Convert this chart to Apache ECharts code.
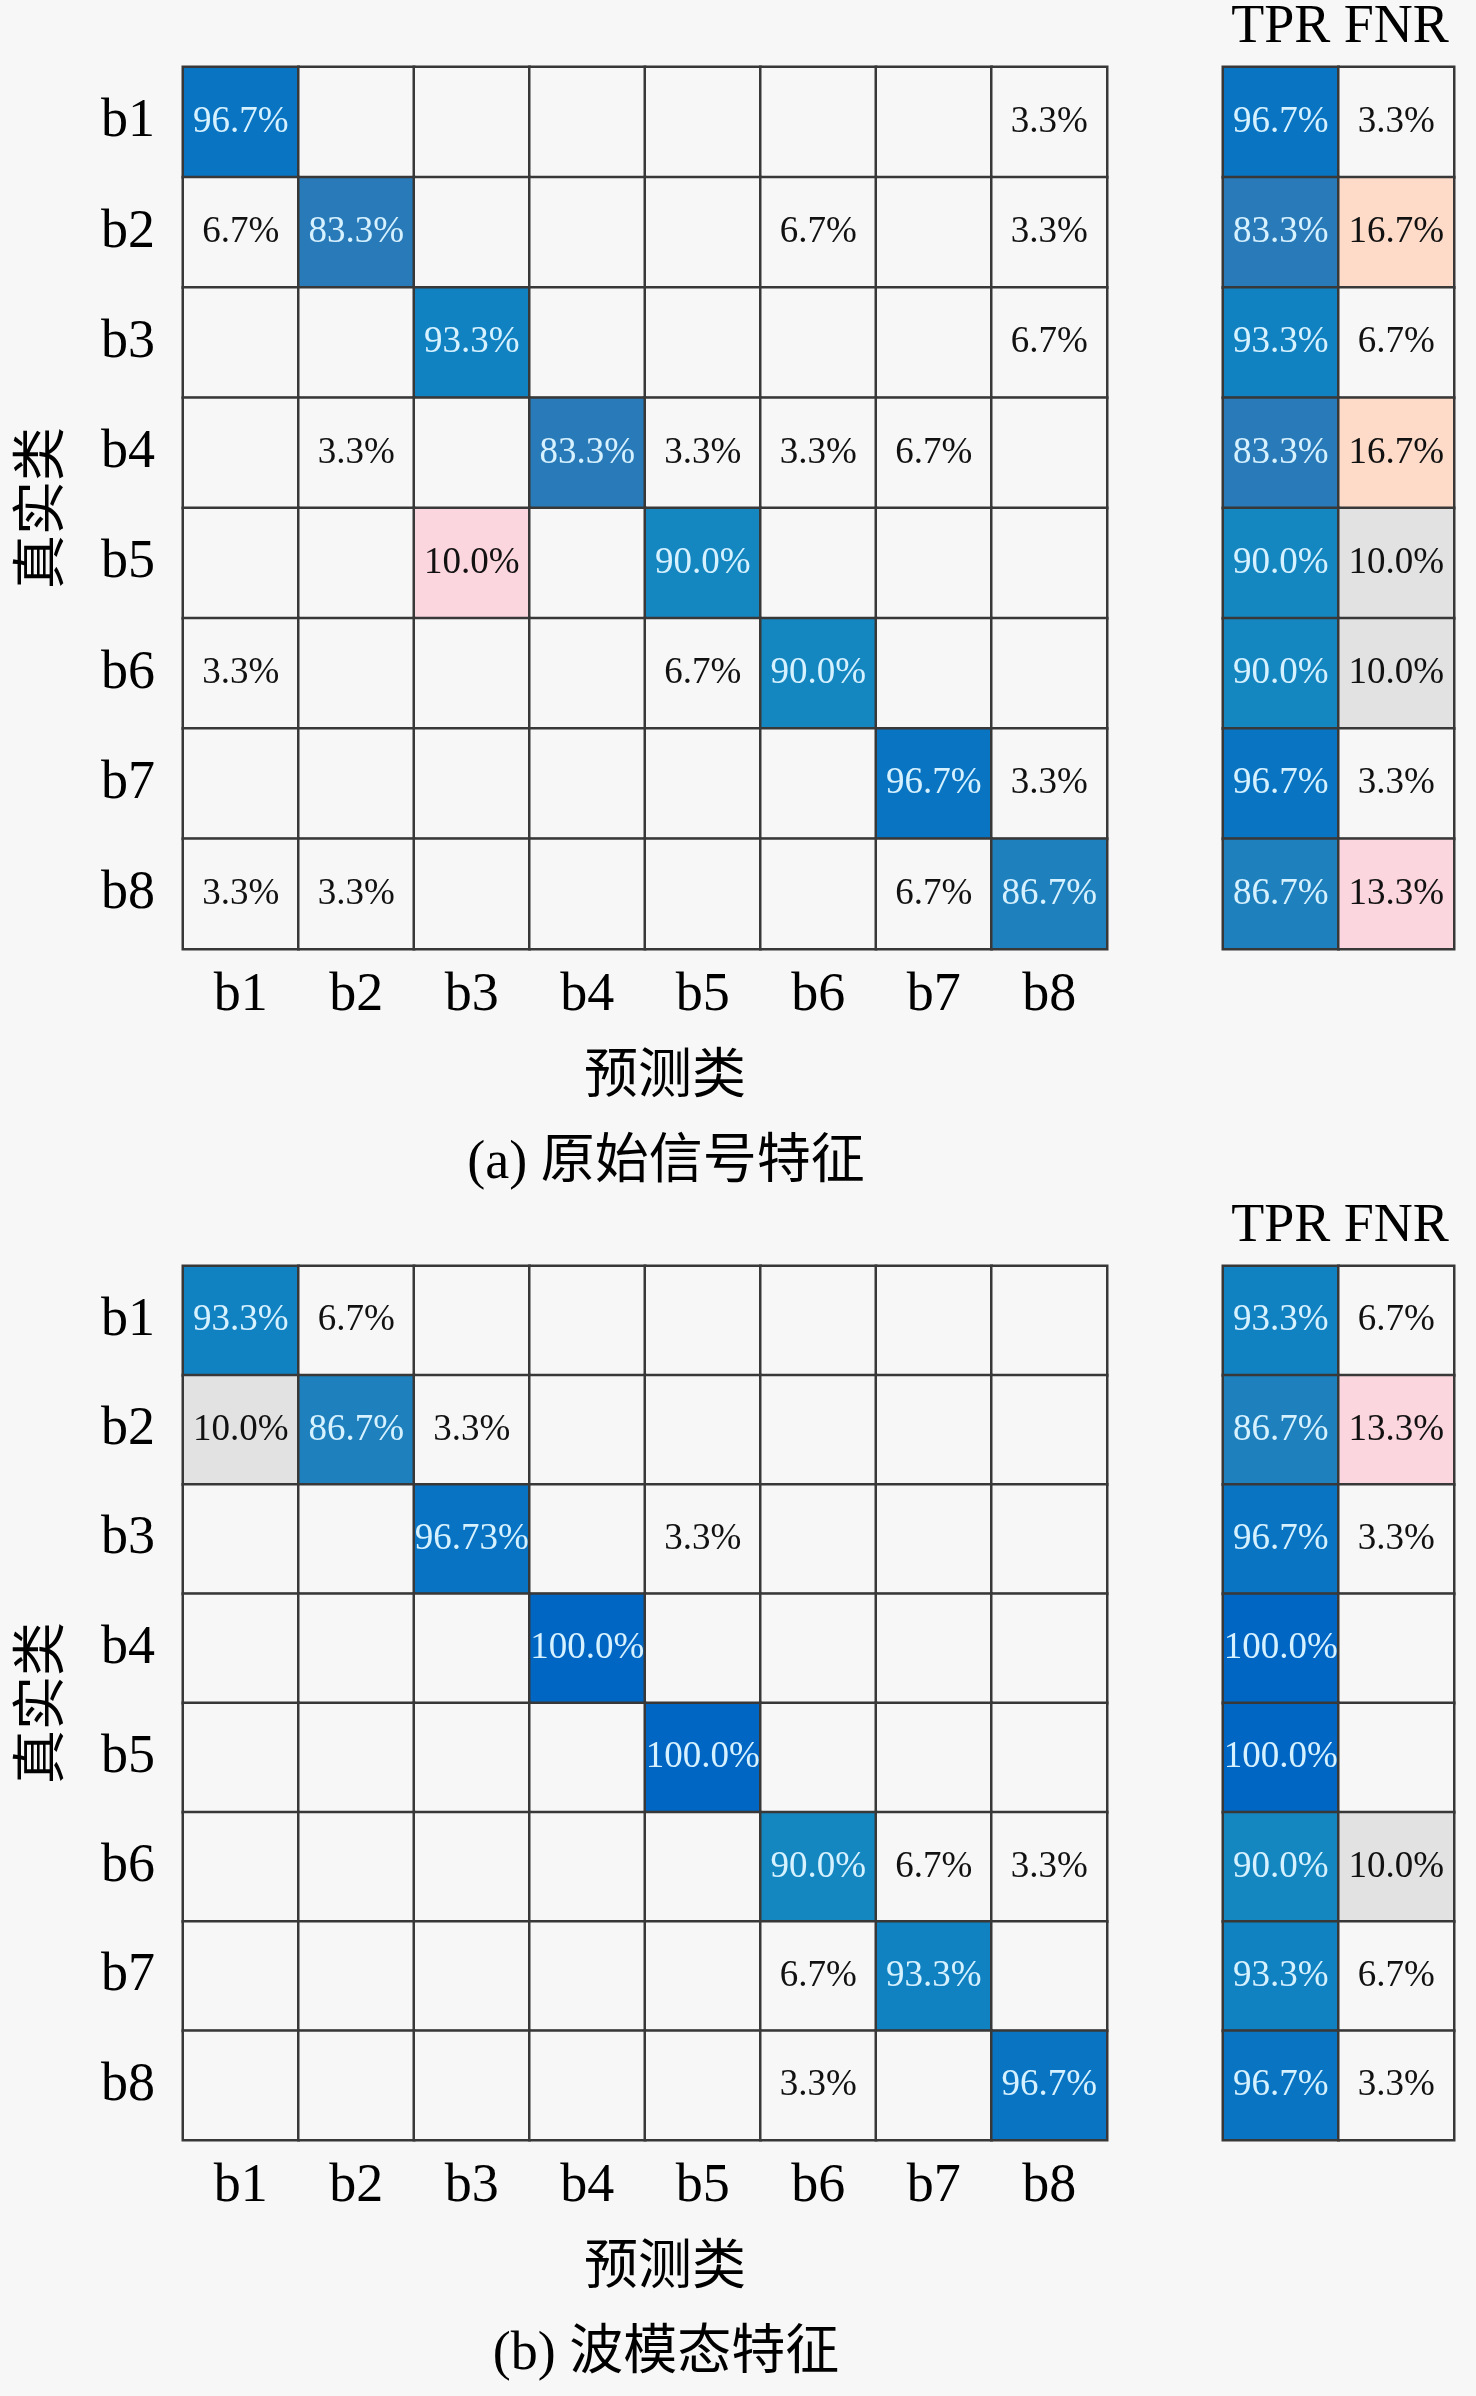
<!DOCTYPE html>
<html>
<head>
<meta charset="utf-8">
<script src="https://cdn.jsdelivr.net/npm/echarts@6/dist/echarts.min.js"></script>
<style>
  html, body { margin: 0; padding: 0; background: #f7f7f7; }
  #main { width: 1476px; height: 2396px; }
</style>
</head>
<body>
<div id="main"></div>
<script>
// 类别
var classes = ['b1', 'b2', 'b3', 'b4', 'b5', 'b6', 'b7', 'b8'];
var rateNames = ['TPR', 'FNR'];

// (a) 原始信号特征 混淆矩阵 (%) 行=真实类, 列=预测类
var matrixA = [
    [96.7, 0, 0, 0, 0, 0, 0, 3.3],
    [6.7, 83.3, 0, 0, 0, 6.7, 0, 3.3],
    [0, 0, 93.3, 0, 0, 0, 0, 6.7],
    [0, 3.3, 0, 83.3, 3.3, 3.3, 6.7, 0],
    [0, 0, 10.0, 0, 90.0, 0, 0, 0],
    [3.3, 0, 0, 0, 6.7, 90.0, 0, 0],
    [0, 0, 0, 0, 0, 0, 96.7, 3.3],
    [3.3, 3.3, 0, 0, 0, 0, 6.7, 86.7]
];
var tprA = [96.7, 83.3, 93.3, 83.3, 90.0, 90.0, 96.7, 86.7];
var fnrA = [3.3, 16.7, 6.7, 16.7, 10.0, 10.0, 3.3, 13.3];

// (b) 波模态特征
var matrixB = [
    [93.3, 6.7, 0, 0, 0, 0, 0, 0],
    [10.0, 86.7, 3.3, 0, 0, 0, 0, 0],
    [0, 0, 96.73, 0, 3.3, 0, 0, 0],
    [0, 0, 0, 100.0, 0, 0, 0, 0],
    [0, 0, 0, 0, 100.0, 0, 0, 0],
    [0, 0, 0, 0, 0, 90.0, 6.7, 3.3],
    [0, 0, 0, 0, 0, 6.7, 93.3, 0],
    [0, 0, 0, 0, 0, 3.3, 0, 96.7]
];
var tprB = [93.3, 86.7, 96.7, 100.0, 100.0, 90.0, 93.3, 96.7];
var fnrB = [6.7, 13.3, 3.3, 0, 0, 10.0, 6.7, 3.3];

var FONT = "'Liberation Serif', 'Noto Sans CJK SC', serif";
var BG = '#f7f7f7';

function mix(c1, c2, t) {
    var a = [parseInt(c1.substr(1, 2), 16), parseInt(c1.substr(3, 2), 16), parseInt(c1.substr(5, 2), 16)];
    var b = [parseInt(c2.substr(1, 2), 16), parseInt(c2.substr(3, 2), 16), parseInt(c2.substr(5, 2), 16)];
    var r = a.map(function (v, i) { return Math.round(v + (b[i] - v) * t); });
    return 'rgb(' + r.join(',') + ')';
}
// 对角线蓝色: 100 深蓝 -> 90 青蓝 -> 83 灰蓝
function blueOf(v) {
    if (v >= 90) return mix('#0066c4', '#1487c0', Math.min(1, (100 - v) / 8));
    return mix('#1487c0', '#2a79b8', Math.min(1, (90 - v) / 7));
}
function lightOf(v, tenColor) {
    if (!v || v < 8) return BG;
    if (v < 11) return tenColor;
    if (v < 15) return '#fcd6df';
    return '#fddbc8';
}
function fmt(v) {
    return (Math.round(v * 10) === v * 10 ? v.toFixed(1) : String(v)) + '%';
}

function cell(x, y, v, good, tenColor) {
    var blue = good && v > 0;
    return {
        value: [x, y, v],
        itemStyle: { color: blue ? blueOf(v) : lightOf(v, tenColor) },
        label: { color: blue ? '#d6f1ff' : '#111', fontFamily: FONT, fontSize: 37 }
    };
}

function buildMain(m, tenColor) {
    var d = [];
    for (var i = 0; i < m.length; i++)
        for (var j = 0; j < m[i].length; j++)
            d.push(cell(j, i, m[i][j], i === j, tenColor));
    return d;
}
function buildSide(tpr, fnr) {
    var d = [];
    for (var i = 0; i < tpr.length; i++) {
        d.push(cell(0, i, tpr[i], true));
        d.push(cell(1, i, fnr[i], false, '#e2e2e2'));
    }
    return d;
}

var panels = [
    { top: 67, bottom: 949, main: buildMain(matrixA, '#fcd6df'), side: buildSide(tprA, fnrA), caption: '(a) 原始信号特征' },
    { top: 1266, bottom: 2140, main: buildMain(matrixB, '#e2e2e2'), side: buildSide(tprB, fnrB), caption: '(b) 波模态特征' }
];

var grids = [], xAxes = [], yAxes = [], series = [], graphics = [];
panels.forEach(function (p, k) {
    var h = p.bottom - p.top;
    grids.push({ left: 183, top: p.top, width: 924, height: h });
    grids.push({ left: 1223, top: p.top, width: 231, height: h });
    var gi = k * 2;
    xAxes.push({
        gridIndex: gi, type: 'category', data: classes, position: 'bottom',
        axisLine: { show: false }, axisTick: { show: false }, splitLine: { show: false },
        axisLabel: { interval: 0, fontSize: 54, color: '#000', fontFamily: FONT, margin: 20 }
    });
    xAxes.push({
        gridIndex: gi + 1, type: 'category', data: rateNames, position: 'top',
        axisLine: { show: false }, axisTick: { show: false }, splitLine: { show: false },
        axisLabel: { interval: 0, hideOverlap: false, fontSize: 54, color: '#000', fontFamily: FONT, margin: 12 }
    });
    yAxes.push({
        gridIndex: gi, type: 'category', data: classes, inverse: true,
        axisLine: { show: false }, axisTick: { show: false }, splitLine: { show: false },
        axisLabel: { interval: 0, fontSize: 54, color: '#000', fontFamily: FONT, margin: 28 }
    });
    yAxes.push({
        gridIndex: gi + 1, type: 'category', data: classes, inverse: true,
        axisLine: { show: false }, axisTick: { show: false }, splitLine: { show: false },
        axisLabel: { show: false }
    });
    [p.main, p.side].forEach(function (data, s) {
        series.push({
            type: 'heatmap',
            xAxisIndex: gi + s, yAxisIndex: gi + s,
            data: data,
            itemStyle: { borderColor: '#383838', borderWidth: 2.5 },
            label: {
                show: true, fontSize: 37, fontFamily: FONT,
                formatter: function (prm) { return prm.value[2] ? fmt(prm.value[2]) : ''; }
            },
            emphasis: { disabled: true }
        });
    });
    graphics.push({
        type: 'text', x: 665, y: p.bottom + 130,
        style: { text: '预测类', fontSize: 54, fontFamily: FONT, fill: '#000', align: 'center', verticalAlign: 'middle' }
    });
    graphics.push({
        type: 'text', x: 666, y: p.bottom + 215,
        style: { text: p.caption, fontSize: 54, fontFamily: FONT, fill: '#000', align: 'center', verticalAlign: 'middle' }
    });
    graphics.push({
        type: 'text', x: 45, y: (p.top + p.bottom) / 2, rotation: Math.PI / 2,
        style: { text: '真实类', fontSize: 54, fontFamily: FONT, fill: '#000', align: 'center', verticalAlign: 'middle' }
    });
});

var chart = echarts.init(document.getElementById('main'));
chart.setOption({
    backgroundColor: BG,
    animation: false,
    grid: grids,
    xAxis: xAxes,
    yAxis: yAxes,
    series: series,
    graphic: graphics
});
</script>
</body>
</html>
